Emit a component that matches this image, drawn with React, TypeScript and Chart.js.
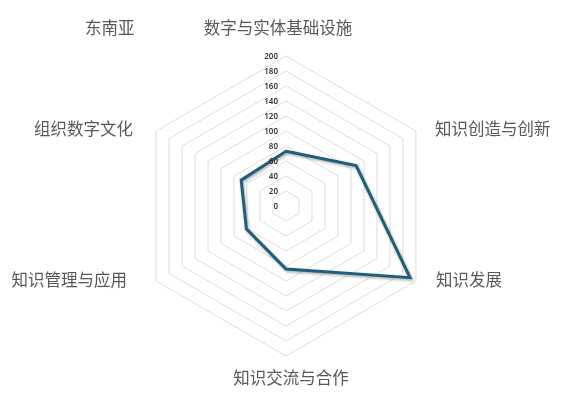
import { useEffect, useRef } from 'react';
import { Chart, registerables } from 'chart.js';

Chart.register(...registerables);

const regionTitle = '东南亚';
const dimensions = [
    '数字与实体基础设施',
    '知识创造与创新',
    '知识发展',
    '知识交流与合作',
    '知识管理与应用',
    '组织数字文化',
];
const scores = [73, 108, 191, 84, 61, 69];
const tickValues = [0, 20, 40, 60, 80, 100, 120, 140, 160, 180, 200];

// where each axis label sits relative to its outer vertex
const labelOffsets: [number, number, CanvasTextAlign][] = [
    [-8, -28, 'center'],
    [19, -2, 'left'],
    [20, -1, 'left'],
    [5, 22, 'center'],
    [-29, -1, 'right'],
    [-23, -2, 'right'],
];

const cjkFont = '"Noto Sans CJK SC", "Noto Sans", sans-serif';

const radarText = {
    id: 'radarText',
    beforeDatasetsDraw(chart: any) {
        const ctx = chart.ctx;
        ctx.save();
        ctx.shadowColor = 'rgba(0, 0, 0, 0.35)';
        ctx.shadowBlur = 3;
        ctx.shadowOffsetX = 1;
        ctx.shadowOffsetY = 1.5;
    },
    afterDatasetsDraw(chart: any) {
        chart.ctx.restore();
    },
    afterDraw(chart: any) {
        const ctx = chart.ctx;
        const scale = chart.scales.r;
        ctx.save();
        ctx.fillStyle = '#595959';
        ctx.font = '16.5px ' + cjkFont;
        ctx.textBaseline = 'middle';
        ctx.textAlign = 'left';
        ctx.fillText(regionTitle, 85, 28);

        dimensions.forEach((label, i) => {
            const p = scale.getPointPosition(i, scale.drawingArea);
            const [dx, dy, align] = labelOffsets[i];
            ctx.textAlign = align;
            ctx.fillText(label, p.x + dx, p.y + dy);
        });

        ctx.fillStyle = '#333333';
        ctx.font = '600 8px "Noto Sans", sans-serif';
        ctx.textAlign = 'right';
        tickValues.forEach(v => {
            const d = scale.getDistanceFromCenterForValue(v);
            ctx.fillText(String(v), scale.xCenter - 8, scale.yCenter - d + 0.5);
        });
        ctx.restore();
    },
};

export default function App() {
    const chartRef = useRef<HTMLCanvasElement>(null);
    const chartInstance = useRef<Chart | null>(null);

    useEffect(() => {
        if (chartRef.current) {
            if (chartInstance.current) {
                chartInstance.current.destroy();
            }
            const ctx = chartRef.current.getContext('2d');
            if (ctx) {
                chartInstance.current = new Chart(ctx, {
                    type: 'radar',
                    data: {
                        labels: dimensions,
                        datasets: [{
                            data: scores,
                            borderColor: '#1f5e7c',
                            borderWidth: 3,
                            fill: false,
                            pointRadius: 0,
                            tension: 0,
                        }]
                    },
                    options: {
                        animation: false,
                        responsive: true,
                        maintainAspectRatio: false,
                        layout: {
                            padding: { top: 56, bottom: 51, left: 136, right: 133 }
                        },
                        plugins: {
                            legend: { display: false },
                            tooltip: { enabled: false },
                        },
                        scales: {
                            r: {
                                min: 0,
                                max: 200,
                                ticks: { display: false, stepSize: 20 },
                                pointLabels: { display: false },
                                angleLines: { display: false },
                                grid: { color: '#dedede', lineWidth: 1 },
                            }
                        }
                    },
                    plugins: [radarText],
                });
            }
        }
        return () => {
            if (chartInstance.current) {
                chartInstance.current.destroy();
                chartInstance.current = null;
            }
        };
    }, []);

    return (
        <div style={{ position: 'fixed', left: 0, top: 0, width: 569, height: 407, background: '#fff' }}>
            <canvas ref={chartRef}></canvas>
        </div>
    );
}
